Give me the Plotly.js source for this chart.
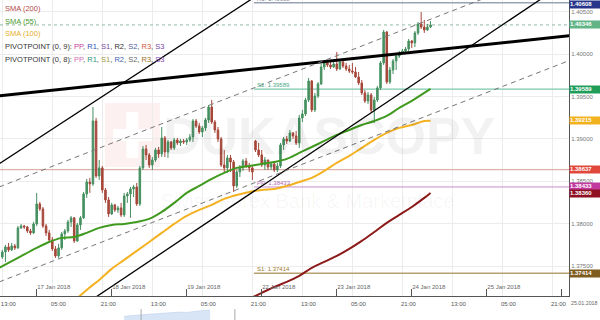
<!DOCTYPE html>
<html><head><meta charset="utf-8">
<script src="https://cdn.plot.ly/plotly-3.0.1.min.js"></script>
<style>html,body{margin:0;padding:0;background:#fff}#chart{width:600px;height:320px}</style>
</head><body><div id="chart"></div>
<script>
// Hourly candles; x = trading-hour index counted from 17 Jan 2018 00:00 (weekend removed)
const firstHour = -11;
const openP = [1.37607,1.37666,1.37725,1.37690,1.37737,1.37714,1.37950,1.37973,1.37961,1.37914,1.37891,1.37997,
1.38233,1.38174,1.37973,1.37891,1.37808,1.37702,1.37619,1.37714,1.37879,1.37914,
1.38020,1.38068,1.37796,1.37985,1.38068,1.38351,1.38492,1.38469,1.39212,1.38563,
1.38658,1.38398,1.38280,1.38115,1.38221,1.38162,1.38186,1.38103,1.38327,1.38351,
1.38410,1.38433,1.38233,1.38658,1.38882,1.38811,1.38693,1.38752,1.38870,1.38823,
1.39012,1.38846,1.38964,1.38894,1.38988,1.38953,1.38976,1.38964,1.38988,1.39023,
1.39212,1.39153,1.39082,1.39130,1.39224,1.39377,1.39200,1.39106,1.39000,1.38693,
1.38658,1.38776,1.38728,1.38445,1.38610,1.38658,1.38740,1.38681,1.38658,1.38976,
1.38870,1.38811,1.38693,1.38752,1.38669,1.38705,1.38634,1.38681,1.38929,1.39000,
1.38976,1.39071,1.39035,1.38953,1.39248,1.39295,1.39460,1.39684,1.39342,1.39507,
1.39649,1.39849,1.39897,1.39873,1.39849,1.39885,1.39826,1.39908,1.39861,1.39826,
1.39802,1.39790,1.39731,1.39661,1.39543,1.39448,1.39519,1.39342,1.39460,1.39602,
1.39897,1.40262,1.39672,1.39814,1.39920,1.39979,1.40015,1.40038,1.40062,1.40156,
1.40133,1.40251,1.40357,1.40321,1.40286,1.40321];
const highP = [1.37690,1.37749,1.37773,1.37773,1.37761,1.37973,1.37997,1.37985,1.37973,1.37938,1.38020,1.38363,
1.38256,1.38197,1.37997,1.37926,1.37843,1.37737,1.37761,1.37902,1.37938,1.38044,
1.38091,1.38079,1.38009,1.38091,1.38374,1.38528,1.38540,1.39377,1.39248,1.38752,
1.38681,1.38422,1.38315,1.38245,1.38233,1.38209,1.38245,1.38363,1.38374,1.38433,
1.38457,1.38481,1.38681,1.38917,1.38929,1.38835,1.38787,1.38894,1.38905,1.39141,
1.39035,1.38988,1.38976,1.39012,1.39012,1.39000,1.39000,1.39012,1.39059,1.39236,
1.39236,1.39189,1.39153,1.39248,1.39401,1.39460,1.39224,1.39141,1.39023,1.38870,
1.38811,1.38811,1.38752,1.38634,1.38693,1.38764,1.38776,1.38717,1.38693,1.38988,
1.38953,1.38870,1.38787,1.38752,1.38728,1.38717,1.38717,1.38953,1.39023,1.39035,
1.39106,1.39082,1.39094,1.39283,1.39342,1.39484,1.39720,1.39696,1.39543,1.39672,
1.39885,1.39932,1.39908,1.39908,1.39908,1.40026,1.39932,1.39932,1.39897,1.39873,
1.39897,1.39849,1.39790,1.39696,1.39578,1.39554,1.39543,1.39495,1.39625,1.39920,
1.40286,1.40274,1.39849,1.39944,1.40003,1.40038,1.40062,1.40085,1.40180,1.40168,
1.40274,1.40380,1.40498,1.40404,1.40357,1.40392];
const lowP = [1.37584,1.37548,1.37666,1.37678,1.37690,1.37702,1.37938,1.37938,1.37891,1.37867,1.37879,1.37973,
1.38150,1.37950,1.37855,1.37773,1.37678,1.37596,1.37596,1.37690,1.37808,1.37891,
1.37961,1.37773,1.37784,1.37926,1.38056,1.38304,1.38363,1.38445,1.38540,1.38516,
1.38363,1.38245,1.38079,1.38103,1.38138,1.38127,1.38079,1.38079,1.38245,1.38068,
1.38315,1.38209,1.38209,1.38634,1.38752,1.38658,1.38634,1.38728,1.38776,1.38787,
1.38787,1.38776,1.38870,1.38870,1.38929,1.38917,1.38941,1.38929,1.38964,1.38964,
1.39130,1.39059,1.39023,1.39094,1.39189,1.39177,1.39071,1.38964,1.38669,1.38610,
1.38599,1.38610,1.38374,1.38422,1.38551,1.38622,1.38658,1.38610,1.38516,1.38846,
1.38787,1.38669,1.38634,1.38634,1.38634,1.38610,1.38610,1.38658,1.38870,1.38941,
1.38964,1.39000,1.38929,1.38894,1.39200,1.39271,1.39436,1.39318,1.39318,1.39484,
1.39637,1.39814,1.39849,1.39826,1.39838,1.39802,1.39814,1.39838,1.39802,1.39779,
1.39767,1.39720,1.39637,1.39519,1.39425,1.39413,1.39307,1.39189,1.39436,1.39578,
1.39873,1.39649,1.39649,1.39767,1.39814,1.39956,1.40003,1.40003,1.40038,1.40074,
1.40085,1.40227,1.40298,1.40251,1.40274,1.40310];
const closeP = [1.37666,1.37725,1.37690,1.37737,1.37714,1.37950,1.37973,1.37961,1.37914,1.37891,1.37997,1.38233,
1.38174,1.37973,1.37891,1.37808,1.37702,1.37619,1.37714,1.37879,1.37914,1.38020,
1.38068,1.37796,1.37985,1.38068,1.38351,1.38492,1.38469,1.39212,1.38563,1.38658,
1.38398,1.38280,1.38115,1.38221,1.38162,1.38186,1.38103,1.38327,1.38351,1.38410,
1.38433,1.38233,1.38658,1.38882,1.38811,1.38693,1.38752,1.38870,1.38823,1.39012,
1.38846,1.38964,1.38894,1.38988,1.38953,1.38976,1.38964,1.38988,1.39023,1.39212,
1.39153,1.39082,1.39130,1.39224,1.39377,1.39200,1.39106,1.39000,1.38693,1.38658,
1.38776,1.38728,1.38445,1.38610,1.38658,1.38740,1.38681,1.38658,1.38610,1.38870,
1.38811,1.38693,1.38752,1.38669,1.38705,1.38634,1.38681,1.38929,1.39000,1.38976,
1.39071,1.39035,1.38953,1.39248,1.39295,1.39460,1.39684,1.39342,1.39507,1.39649,
1.39849,1.39897,1.39873,1.39849,1.39885,1.39826,1.39908,1.39861,1.39826,1.39802,
1.39790,1.39731,1.39661,1.39543,1.39448,1.39519,1.39342,1.39460,1.39602,1.39897,
1.40262,1.39672,1.39814,1.39920,1.39979,1.40015,1.40038,1.40062,1.40156,1.40133,
1.40251,1.40357,1.40321,1.40286,1.40321,1.40346];
const hours = closeP.map((_, i) => firstHour + i);

// Moving averages (sampled)
const sma55Hours = [-12,-6,0,4,8,12,16,20,24,28,32,36,40,44,48,52,56,60,64,68,72,76,80,84,88,92,96,100,104,108,112,116,120,124,126];
const sma55 = [1.37478,1.37596,1.37714,1.37784,1.37832,1.37843,1.37891,1.37950,1.37985,1.37997,1.38020,1.38056,1.38138,1.38245,1.38363,1.38445,1.38528,1.38599,1.38658,1.38681,1.38705,1.38728,1.38764,1.38835,1.38905,1.38976,1.39047,1.39106,1.39165,1.39212,1.39271,1.39366,1.39448,1.39543,1.39590];
const sma100Hours = [12,16,20,24,28,32,36,40,44,48,52,56,60,64,68,72,76,80,84,88,92,96,100,104,108,112,116,120,124,126];
const sma100 = [1.37088,1.37218,1.37336,1.37466,1.37572,1.37678,1.37784,1.37891,1.37997,1.38091,1.38162,1.38221,1.38292,1.38339,1.38374,1.38398,1.38410,1.38445,1.38492,1.38540,1.38622,1.38717,1.38799,1.38894,1.38988,1.39071,1.39130,1.39165,1.39212,1.39215];
const sma200Hours = [68,72,76,80,84,88,92,96,100,104,108,112,116,120,124,126];
const sma200 = [1.37112,1.37183,1.37253,1.37312,1.37383,1.37478,1.37548,1.37619,1.37702,1.37796,1.37902,1.38009,1.38103,1.38197,1.38304,1.38363];

// Trend lines (two anchor points each: hour index, price)
const thickTrendHours = [-12,171], thickTrendPrices = [1.39510,1.40221];
const upperChannelHours = [-12,70], upperChannelPrices = [1.38707,1.40681];
const lowerChannelHours = [19,162], lowerChannelPrices = [1.37135,1.40668];
const upperDashHours = [-12,150], upperDashPrices = [1.38433,1.40757];
const lowerDashHours = [-12,171], lowerDashPrices = [1.37312,1.39934];

// Axis ticks
const timeTickHours = [-11,5,21,37,53,69,85,101,117,133,149,165];
const timeTickLabels = ['13:00','05:00','21:00','13:00','05:00','21:00','13:00','05:00','21:00','13:00','05:00','21:00'];
const dateTickHours = [0,24,48,72,96,120,144,168];
const dateTickLabels = ['17 Jan 2018','18 Jan 2018','19 Jan 2018','22 Jan 2018','23 Jan 2018','24 Jan 2018','25 Jan 2018','26 Jan 2018'];
const priceTicks = [1.375,1.380,1.385,1.390,1.395,1.400,1.405];
const priceTickLabels = ['1.37500','1.38000','1.38500','1.39000','1.39500','1.40000','1.40500'];

// Pivot / price levels
const weekStartHour = 69.5;
const levelNames  = ['R1','','S1','','PP','S1'];
const levelValues = [1.40608,1.40346,1.39589,1.38637,1.38433,1.37414];
const levelFull   = [false,true,false,true,false,false];
const levelColors = ['#9aa2b5','#93bba2','#7dc8aa','#d6a092','#c98cc9','#b8a270'];
const levelTextColors = ['#7c8496','','#4aa887','','#b06ab0','#9c7c2c'];
const levelDash = ['solid','dot','solid','solid','solid','solid'];
const levelWidth = [1.6,1,1.3,1,1,1.4];

// Right-hand value boxes
const boxValues = [1.40608,1.40346,1.39589,1.39215,1.38637,1.38433,1.38360,1.37414];
const boxColors = ['#27358a','#62b487','#1f9d59','#f2b11f','#e2473b','#c13a9e','#8f1020','#7e5c1f'];

// Navigator strip (mini history)
const navHours = [28,30,32,34,36,38,40,42,44,46,48,50,52,54,55.5];
const navLevel = [0.35,0.4,0.38,0.5,0.55,0.6,0.58,0.66,0.7,0.75,0.72,0.8,0.86,0.92,0.98];

const XR = [-11.74,170.3];
const YR = [1.37146,1.40640];

const traces = [
  {type:'scatter',mode:'lines',x:sma55Hours,y:sma55,line:{color:'#3f9a1f',width:2,shape:'spline'},hoverinfo:'skip'},
  {type:'scatter',mode:'lines',x:sma100Hours,y:sma100,line:{color:'#f4b223',width:2,shape:'spline'},hoverinfo:'skip'},
  {type:'scatter',mode:'lines',x:sma200Hours,y:sma200,line:{color:'#8c1a1a',width:2,shape:'spline'},hoverinfo:'skip'},
  {type:'candlestick',x:hours,open:openP,high:highP,low:lowP,close:closeP,
   increasing:{line:{color:'#469060',width:1},fillcolor:'#469060'},
   decreasing:{line:{color:'#a6473a',width:1},fillcolor:'#a6473a'},
   whiskerwidth:0,hoverinfo:'skip'},
  {type:'scatter',mode:'lines',x:thickTrendHours,y:thickTrendPrices,line:{color:'#000',width:3},hoverinfo:'skip'},
  {type:'scatter',mode:'lines',x:upperChannelHours,y:upperChannelPrices,line:{color:'#000',width:1.3},hoverinfo:'skip'},
  {type:'scatter',mode:'lines',x:lowerChannelHours,y:lowerChannelPrices,line:{color:'#000',width:1.3},hoverinfo:'skip'},
  {type:'scatter',mode:'lines',x:upperDashHours,y:upperDashPrices,line:{color:'#777',width:1,dash:'5px,4px'},hoverinfo:'skip'},
  {type:'scatter',mode:'lines',x:lowerDashHours,y:lowerDashPrices,line:{color:'#777',width:1,dash:'5px,4px'},hoverinfo:'skip'},
  // carrier for the date axis (no visible marks)
  {type:'scatter',mode:'markers',x:dateTickHours,y:dateTickHours.map(()=>null),xaxis:'x2',yaxis:'y',marker:{opacity:0},hoverinfo:'skip'},
  {type:'scatter',mode:'lines',x:navHours,y:navLevel,xaxis:'x3',yaxis:'y3',fill:'tozeroy',fillcolor:'#d7e5f7',line:{color:'#bcd0ec',width:0.6},hoverinfo:'skip'}
];

const shapes = [];
// watermark logo
shapes.push({type:'rect',xref:'paper',yref:'paper',x0:0.1845,x1:0.281,y0:0.478,y1:0.678,fillcolor:'rgba(230,90,90,0.09)',line:{width:0},layer:'below'});
shapes.push({type:'rect',xref:'paper',yref:'paper',x0:0.222,x1:0.243,y0:0.506,y1:0.65,fillcolor:'#fff',line:{width:0},layer:'below'});
shapes.push({type:'rect',xref:'paper',yref:'paper',x0:0.199,x1:0.267,y0:0.559,y1:0.597,fillcolor:'#fff',line:{width:0},layer:'below'});
levelValues.forEach((v,i)=>{
  shapes.push({type:'line',xref:'x',yref:'y',x0:levelFull[i]?XR[0]:weekStartHour,x1:XR[1],y0:v,y1:v,
    line:{color:levelColors[i],width:levelWidth[i],dash:levelDash[i]},layer:'between'});
});
// navigator markers
shapes.push({type:'line',xref:'x3',yref:'paper',x0:33.4,x1:33.4,y0:0,y1:0.034,line:{color:'#aaa',width:1}});
shapes.push({type:'line',xref:'x3',yref:'paper',x0:63.4,x1:63.4,y0:0,y1:0.034,line:{color:'#aaa',width:1}});

const annotations = [];
const FONT = 'Liberation Sans, Arial, sans-serif';
// legend
const legendRows = [
  [['SMA (200)','#b24a4a']],
  [['SMA (55)','#4c9a2e']],
  [['SMA (100)','#e6ae2a']],
  [['PIVOTPOINT (0, 9): ','#333'],['PP','#c43d9c'],[', ','#333'],['R1','#3550c0'],[', ','#333'],['S1','#7b3fa5'],[', ','#333'],['R2','#333'],[', ','#333'],['S2','#51609e'],[', ','#333'],['R3','#d0553a'],[', ','#333'],['S3','#7a45aa']],
  [['PIVOTPOINT (0, 8): ','#333'],['PP','#d46fb5'],[', ','#333'],['R1','#2e9c78'],[', ','#333'],['S1','#a39a3c'],[', ','#333'],['R2','#3f5fb5'],[', ','#333'],['S2','#6a6a6a'],[', ','#333'],['R3','#a2702a'],[', ','#333'],['S3','#8a4ab8']]
];
const legendY = [0.9728,0.934,0.896,0.854,0.815];
legendRows.forEach((row,i)=>{
  annotations.push({xref:'paper',yref:'paper',x:0.005,y:legendY[i],xanchor:'left',yanchor:'middle',showarrow:false,
    text:row.map(s=>'<span style="color:'+s[1]+'">'+s[0]+'</span>').join(''),font:{family:FONT,size:7.5,color:'#333'}});
});
// level labels
levelValues.forEach((v,i)=>{
  if(!levelNames[i]) return;
  annotations.push({xref:'x',yref:'y',x:weekStartHour,y:v,xanchor:'left',yanchor:'bottom',xshift:1,yshift:-1,showarrow:false,
    text:levelNames[i]+': '+v.toFixed(5),font:{family:FONT,size:6,color:levelTextColors[i]}});
});
// value boxes
boxValues.forEach((v,i)=>{
  annotations.push({xref:'paper',yref:'y',x:1,y:v,xanchor:'left',yanchor:'middle',showarrow:false,
    text:'<b>'+v.toFixed(5)+'</b>',font:{family:FONT,size:6,color:'#fff'},bgcolor:boxColors[i],
    width:30,height:6.5,borderpad:0,align:'left',yshift:i===0?-1.5:0});
});
annotations.push({xref:'paper',yref:'paper',x:1,y:0.053,xanchor:'left',yanchor:'middle',xshift:0,showarrow:false,
  text:'25.01.2018',font:{family:FONT,size:5.3,color:'#666'}});
// watermark
annotations.push({xref:'paper',yref:'paper',x:0.578,y:0.575,xanchor:'center',yanchor:'middle',showarrow:false,
  text:'<b>DUKASCOPY</b>',font:{family:FONT,size:52,color:'rgba(0,0,0,0.05)'}});
annotations.push({xref:'paper',yref:'paper',x:0.54,y:0.372,xanchor:'center',yanchor:'middle',showarrow:false,
  text:'Swiss Forex Bank & Marketplace',font:{family:FONT,size:20,color:'rgba(0,0,0,0.04)'}});

const layout = {
  width:600,height:320,margin:{l:0,r:31,t:0,b:0,pad:0},
  paper_bgcolor:'#fff',plot_bgcolor:'#fff',showlegend:false,
  font:{family:FONT,size:6,color:'#666'},
  xaxis:{range:XR,domain:[0,1],anchor:'y',tickmode:'array',tickvals:timeTickHours,ticktext:timeTickLabels,
    ticks:'',showgrid:true,gridcolor:'#ececec',gridwidth:1,showline:true,linecolor:'#555',linewidth:1,zeroline:false,
    tickfont:{family:FONT,size:6,color:'#555'},ticklabelshift:6,ticklabelstandoff:2,rangeslider:{visible:false},fixedrange:true},
  xaxis2:{overlaying:'x',anchor:'y',side:'bottom',range:XR,tickmode:'array',tickvals:dateTickHours,ticktext:dateTickLabels,
    ticks:'inside',ticklen:7,tickcolor:'#555',tickwidth:1,ticklabelposition:'inside right',showgrid:false,showline:false,zeroline:false,
    tickfont:{family:FONT,size:6,color:'#666'},fixedrange:true},
  yaxis:{domain:[0.075,1],anchor:'x',side:'right',range:YR,tickmode:'array',tickvals:priceTicks,ticktext:priceTickLabels,
    ticks:'',showgrid:true,gridcolor:'#ececec',showline:true,linecolor:'#555',linewidth:1,zeroline:false,
    tickfont:{family:FONT,size:6,color:'#777'},fixedrange:true},
  xaxis3:{domain:[0,1],anchor:'y3',range:XR,visible:false,fixedrange:true},
  yaxis3:{domain:[0,0.033],anchor:'x3',range:[0,1],visible:false,fixedrange:true},
  shapes:shapes,annotations:annotations
};
Plotly.newPlot('chart',traces,layout,{staticPlot:true,displayModeBar:false});
</script></body></html>
